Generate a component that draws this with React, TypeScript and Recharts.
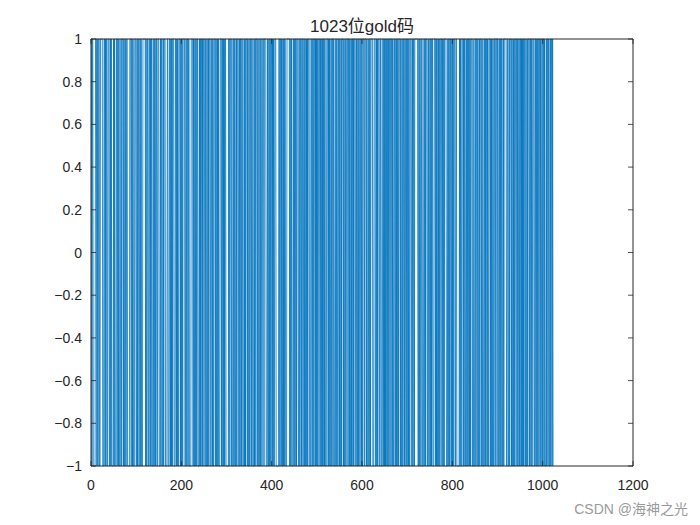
import { Line, LineChart, XAxis, YAxis } from "recharts";

// chip values (1 = +1, 0 = -1), 1023 chips
const chipRows = [
  "10110000 01110100 11001111 10001101 01100111 00101000 01010001 10110100",
  "01101110 10010011 00000111 01101000 11100101 10011010 00111111 01001100",
  "11010110 00101101 10011100 01011001 01110000 11000110 10101110 00110101",
  "00111010 11011110 01101101 10000111 10100101 10110001 01011010 11100100",
  "10010111 00110100 11101001 01000111 01101010 11000000 10111001 00010110",
  "01011100 10110110 00101011 10100100 11011000 10110111 01000101 10011101",
  "11100010 01011011 01010011 10000001 10110100 10101100 01111110 10010001",
  "00101101 11001001 10110011 01001010 11100011 00101110 10101001 11010010",
  "10110100 01110101 00110110 11000101 10011010 01011101 00100111 01101001",
  "01101011 10010010 11001101 00111011 10100010 11011110 00111001 01011100",
  "11000110 10101101 00101110 11010011 00101011 01110100 10011011 00101101",
  "00111001 01101111 11100101 10011000 11010111 00100110 10110001 11010100",
  "10100111 01001011 11000101 10110010 10111001 10000001 01001110 10110010",
  "01011010 11100100 01101101 10010111 01000110 10110100 11101010 01001101",
  "11011001 00101100 10111110 01100101 11010010 10011101 00110110 10101011",
  "00100101 11011010 01110011 01001011 10100110 11010001 01101100 1011010",
];

const xTicks = [0, 200, 400, 600, 800, 1000, 1200];
const yTicks = [-1, -0.8, -0.6, -0.4, -0.2, 0, 0.2, 0.4, 0.6, 0.8, 1];

const chips = chipRows.join("").replace(/\s/g, "").slice(0, 1023);
const data = Array.from(chips).map((b, i) => ({ n: i + 1, v: b === "1" ? 1 : -1 }));

const FONT = "'Liberation Sans', Arial, 'Noto Sans CJK SC', sans-serif";
const INK = "#262626";

const BottomTick = ({ x, y, payload }: any) => (
  <g>
    <line x1={x} y1={y} x2={x} y2={y - 5} stroke={INK} strokeWidth={0.8} />
    <text x={x} y={y + 24} textAnchor="middle" fontSize={14} fill={INK} fontFamily={FONT}>
      {payload.value}
    </text>
  </g>
);

const TopTick = ({ x, y }: any) => (
  <line x1={x} y1={y} x2={x} y2={y + 5} stroke={INK} strokeWidth={0.8} />
);

const LeftTick = ({ x, y, payload }: any) => (
  <g>
    <line x1={x} y1={y} x2={x + 5} y2={y} stroke={INK} strokeWidth={0.8} />
    <text x={x - 9} y={y + 5} textAnchor="end" fontSize={14} fill={INK} fontFamily={FONT}>
      {String(payload.value).replace("-", "\u2212")}
    </text>
  </g>
);

const RightTick = ({ x, y }: any) => (
  <line x1={x} y1={y} x2={x - 5} y2={y} stroke={INK} strokeWidth={0.8} />
);

export default function App() {
  return (
    <div style={{ position: "relative", width: 700, height: 525, margin: -8, background: "#fff" }}>
      <div
        style={{
          position: "absolute",
          top: 12,
          left: 91,
          width: 542,
          textAlign: "center",
          fontFamily: FONT,
          fontSize: 17,
          color: INK,
        }}
      >
        1023位gold码
      </div>
      <LineChart width={700} height={525} data={data} margin={{ top: 38, right: 66, bottom: 0, left: 0 }}>
        <XAxis
          xAxisId="b"
          dataKey="n"
          type="number"
          domain={[0, 1200]}
          ticks={xTicks}
          height={59}
          tickSize={0}
          tickMargin={0}
          tickLine={false}
          axisLine={{ stroke: INK }}
          tick={<BottomTick />}
          interval={0}
        />
        <XAxis
          xAxisId="t"
          orientation="top"
          dataKey="n"
          type="number"
          domain={[0, 1200]}
          ticks={xTicks}
          height={1}
          tickSize={0}
          tickMargin={0}
          tickLine={false}
          axisLine={{ stroke: INK }}
          tick={<TopTick />}
          interval={0}
        />
        <YAxis
          yAxisId="l"
          type="number"
          domain={[-1, 1]}
          ticks={yTicks}
          width={91}
          tickSize={0}
          tickMargin={0}
          tickLine={false}
          axisLine={{ stroke: INK }}
          tick={<LeftTick />}
          interval={0}
        />
        <YAxis
          yAxisId="r"
          orientation="right"
          type="number"
          domain={[-1, 1]}
          ticks={yTicks}
          width={1}
          tickSize={0}
          tickMargin={0}
          tickLine={false}
          axisLine={{ stroke: INK }}
          tick={<RightTick />}
          interval={0}
        />
        <Line
          xAxisId="b"
          yAxisId="l"
          dataKey="v"
          type="linear"
          stroke="#0072BD"
          strokeWidth={0.8}
          dot={false}
          isAnimationActive={false}
        />
        <Line
          xAxisId="t"
          yAxisId="r"
          dataKey="v"
          type="linear"
          stroke="none"
          dot={false}
          isAnimationActive={false}
        />
      </LineChart>
      <div
        style={{
          position: "absolute",
          right: 12,
          top: 498,
          fontFamily: FONT,
          fontSize: 14,
          color: "#9a9a9a",
        }}
      >
        CSDN @海神之光
      </div>
    </div>
  );
}
